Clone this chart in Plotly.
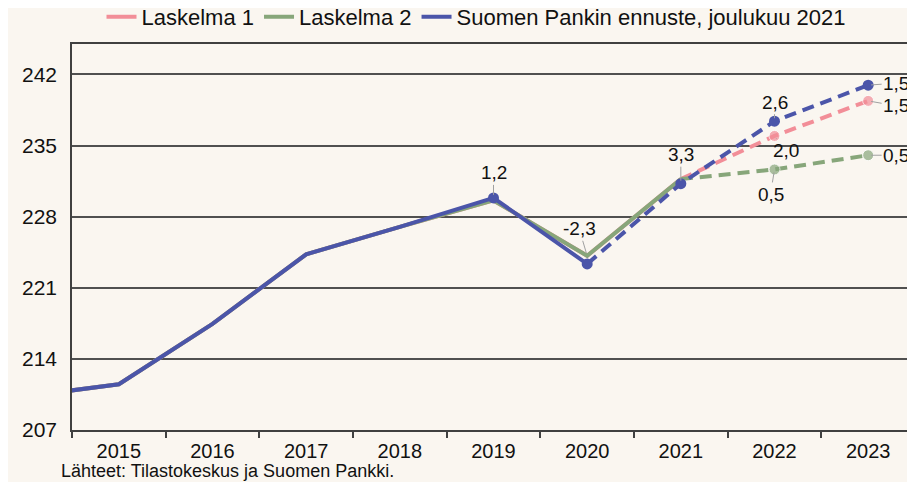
import plotly.graph_objects as go

# Index values (2014 point sits just left of the axis and is clipped)
years = [2014, 2015, 2016, 2017, 2018, 2019, 2020, 2021, 2022, 2023]
suomen_pankki = [210.3, 211.5, 217.45, 224.3, 227.0, 229.85, 223.35, 231.25, 237.4, 240.95]
laskelma_2 = [210.3, 211.5, 217.45, 224.3, 227.0, 229.6, 224.15, 231.7, 232.65, 234.05]
laskelma_1 = [210.3, 211.5, 217.45, 224.3, 227.0, 229.6, 224.15, 231.7, 235.95, 239.4]

year_labels = ["2015", "2016", "2017", "2018", "2019", "2020", "2021", "2022", "2023"]
y_ticks = [207, 214, 221, 228, 235, 242]

# growth labels: (series, year, text, dx, dy)
growth_labels = [
    ("suomen", 2019, "1,2", 0, -25),
    ("laskelma2", 2020, "-2,3", -8, -27),
    ("suomen", 2021, "3,3", 0, -29),
    ("suomen", 2022, "2,6", 0, -19),
    ("laskelma1", 2022, "2,0", 11, 15),
    ("laskelma2", 2022, "0,5", -4, 25),
    ("suomen", 2023, "1,5", 28, -2),
    ("laskelma1", 2023, "1,5", 28, 5),
    ("laskelma2", 2023, "0,5", 28, 0),
]

PINK = "#f28e98"
GREEN = "#87a67a"
BLUE = "#4b55a9"
BG = "#faf6f0"
DASH = "12px,7px"

series = {"laskelma1": laskelma_1, "laskelma2": laskelma_2, "suomen": suomen_pankki}


def value(name, year):
    return series[name][years.index(year)]


fig = go.Figure()

# Laskelma 1: history shared with Laskelma 2, forecast dashed from 2021
fig.add_trace(go.Scatter(x=years[:8], y=laskelma_1[:8], mode="lines", name="Laskelma 1",
                         line=dict(color=PINK, width=4)))
fig.add_trace(go.Scatter(x=years[7:], y=laskelma_1[7:], mode="lines+markers", showlegend=False,
                         line=dict(color=PINK, width=4, dash=DASH),
                         marker=dict(size=[0, 11, 11], color=PINK)))

fig.add_trace(go.Scatter(x=years[:8], y=laskelma_2[:8], mode="lines", name="Laskelma 2",
                         line=dict(color=GREEN, width=4)))
fig.add_trace(go.Scatter(x=years[7:], y=laskelma_2[7:], mode="lines+markers", showlegend=False,
                         line=dict(color=GREEN, width=4, dash=DASH),
                         marker=dict(size=[0, 11, 11], color=GREEN)))

fig.add_trace(go.Scatter(x=years[:7], y=suomen_pankki[:7], mode="lines",
                         name="Suomen Pankin ennuste, joulukuu 2021",
                         line=dict(color=BLUE, width=4)))
fig.add_trace(go.Scatter(x=years[6:], y=suomen_pankki[6:], mode="lines", showlegend=False,
                         line=dict(color=BLUE, width=4, dash=DASH)))
fig.add_trace(go.Scatter(x=years[5:], y=suomen_pankki[5:], mode="markers", showlegend=False,
                         marker=dict(size=11, color=BLUE)))

for name, yr, txt, dx, dy in growth_labels:
    fig.add_annotation(x=yr, y=value(name, yr), text=txt, showarrow=True,
                       ax=dx, ay=dy, arrowhead=0, arrowwidth=1, arrowcolor="#a0a0a0",
                       standoff=3, font=dict(size=19, color="#111"))

fig.add_annotation(text="Lähteet: Tilastokeskus ja Suomen Pankki.", xref="paper", yref="paper",
                   x=0, y=0, xanchor="left", yanchor="middle", xshift=-13, yshift=-41,
                   showarrow=False, font=dict(size=18, color="#111"))

# page body adds an 8px offset, so the figure is 8px smaller on each side
fig.update_layout(
    width=907,
    height=474,
    margin=dict(l=64, r=0, t=36, b=52, autoexpand=False),
    paper_bgcolor=BG,
    plot_bgcolor=BG,
    font=dict(family="Liberation Sans, Arial, sans-serif", color="#111"),
    showlegend=True,
    legend=dict(orientation="h", x=0.035, y=1.07, xanchor="left", yanchor="middle",
                font=dict(size=22), bgcolor="rgba(0,0,0,0)", itemwidth=30,
                tracegroupgap=0),
    xaxis=dict(
        range=[2014.5, 2023.5],
        tickvals=list(range(2015, 2024)),
        ticktext=year_labels,
        ticks="",
        ticklabelstandoff=2,
        tickfont=dict(size=20),
        showgrid=False,
        zeroline=False,
        showline=True,
        linecolor="#404040",
        linewidth=1.5,
        mirror=True,
        automargin=False,
        minor=dict(tickvals=[y + 0.5 for y in range(2014, 2023)], ticks="outside",
                   ticklen=6, tickcolor="#404040", tickwidth=1.5, showgrid=False),
    ),
    yaxis=dict(
        range=[207, 245],
        tickvals=y_ticks,
        ticks="",
        ticklabelstandoff=9,
        tickfont=dict(size=21),
        showgrid=True,
        gridcolor="#505050",
        gridwidth=1.5,
        zeroline=False,
        showline=True,
        linecolor="#404040",
        linewidth=1.5,
        automargin=False,
    ),
)

fig.write_html("out.html")
